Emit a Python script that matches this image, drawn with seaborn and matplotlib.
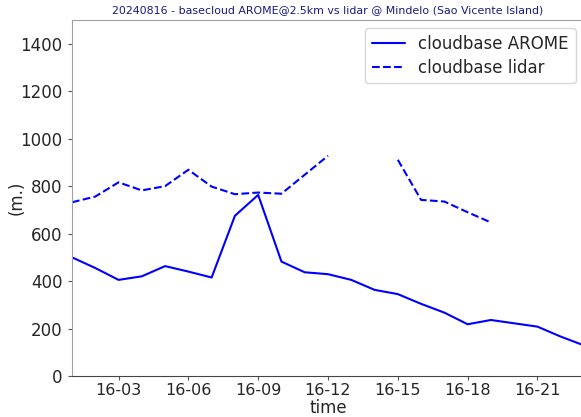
import numpy as np
import pandas as pd
import matplotlib.pyplot as plt
import matplotlib.dates as mdates
import seaborn as sns

hours = list(range(1, 24))
arome = [500, 455, 405, 420, 463, 440, 415, 675, 763, 482, 437, 429,
         405, 363, 345, 304, 267, 218, 236, 222, 208, 166, 129]
lidar = [732, 756, 816, 782, 800, 869, 798, 766, 773, 768, 848, 928,
         np.nan, np.nan, 911, 742, 735, 690, 647, np.nan, np.nan, np.nan, np.nan]


def main():
    times = pd.to_datetime("2024-08-16") + pd.to_timedelta(hours, unit="h")
    df_a = pd.DataFrame({"time": times, "value": arome})
    df_l = pd.DataFrame({"time": times, "value": lidar})
    # split lidar into segments so gaps stay open
    df_l["seg"] = df_l["value"].isna().cumsum()
    df_l = df_l.dropna()

    sns.set_style("white")
    plt.rcParams["font.family"] = ["DejaVu Sans"]
    fig = plt.figure(figsize=(5.81, 4.17), dpi=100)
    ax = fig.add_axes([72 / 581, 1 - 376 / 417, 512 / 581, 356 / 417])

    sns.lineplot(data=df_a, x="time", y="value", color="blue", lw=1.5,
                 label="cloudbase AROME", ax=ax)
    sns.lineplot(data=df_l, x="time", y="value", units="seg", estimator=None,
                 color="blue", lw=1.5, linestyle="--", ax=ax)
    ax.plot([], [], color="blue", lw=1.5, ls="--", label="cloudbase lidar")

    ax.set_xlim(times[0], times[-1])
    ax.set_ylim(0, 1500)
    ax.set_yticks(range(0, 1401, 200))
    ax.xaxis.set_major_locator(mdates.HourLocator(byhour=range(0, 24, 3)))
    ax.xaxis.set_major_formatter(mdates.DateFormatter("%d-%H"))
    ax.tick_params(axis="both", direction="out", length=3.2,
                   left=True, bottom=True, color="#555555")
    ax.tick_params(axis="y", labelsize=12)
    ax.tick_params(axis="x", labelsize=11.5, pad=2)
    ax.set_xlabel("time", fontsize=12)
    ax.set_ylabel("(m.)", fontsize=12)
    ax.xaxis.set_label_coords(0.5, -0.065)
    ax.yaxis.set_label_coords(-0.09, 0.5)
    ax.set_title("20240816 - basecloud AROME@2.5km vs lidar @ Mindelo (Sao Vicente Island)",
                 fontsize=7.9, color="#1a1a80", pad=5)
    for side in ["left", "top", "right"]:
        ax.spines[side].set_color("#a0a0a0")
    ax.spines["bottom"].set_color("#444444")
    ax.legend(loc="upper right", fontsize=12, handlelength=2.0, labelspacing=0.35)

    fig.savefig("out.png", dpi=100)


if __name__ == "__main__":
    main()
